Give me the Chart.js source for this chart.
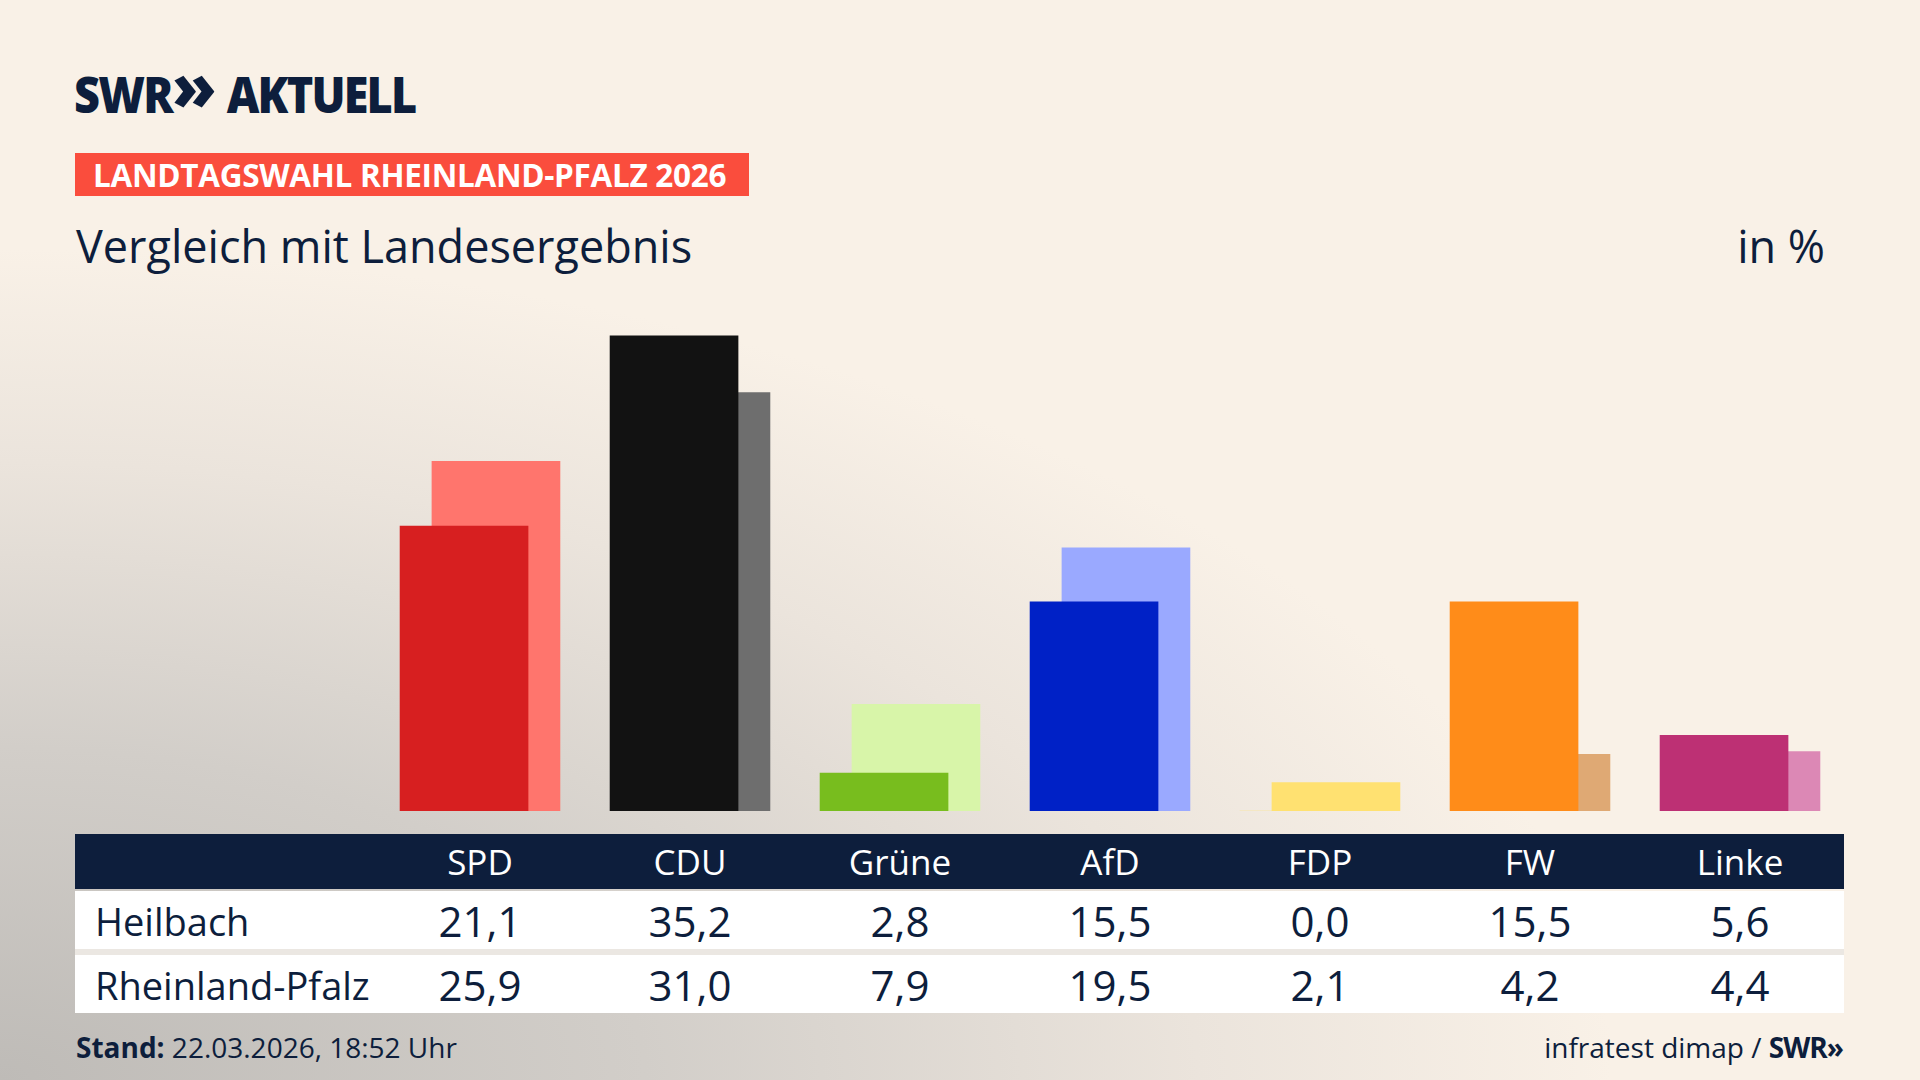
<!DOCTYPE html>
<html lang="de">
<head>
<meta charset="utf-8">
<script src="https://cdn.jsdelivr.net/npm/chart.js@4.4.1/dist/chart.umd.min.js"></script>
<style>
  html, body { margin: 0; padding: 0; }
  body {
    width: 1920px; height: 1080px; overflow: hidden; position: relative;
    font-family: "Open Sans", "Noto Sans", sans-serif; color: #0d1e3c;
    background: radial-gradient(ellipse 120% 110% at 0% 100%, #bebbb7 0%, #d2cec9 28%, #ebe4dc 52%, #f9f1e7 70%);
  }
  #logo { position: absolute; left: 74px; top: 57px; font-weight: 800; font-size: 50px; letter-spacing: -2px; line-height: 60px;
    transform: scaleX(0.9); transform-origin: left top; white-space: nowrap; }
  #logo .chev { font-size: 66px; display: inline-block; transform: scaleX(1.1) translateY(-3px); margin: 0 16px 0 2px; }
  #banner { position: absolute; left: 75px; top: 153px; width: 674px; height: 43px; background: #fa4d3d; color: #fff;
    font-weight: 700; font-size: 31.5px; line-height: 43px; text-indent: 18px; white-space: nowrap; letter-spacing: -0.3px; }
  #subtitle { position: absolute; left: 76px; top: 218px; font-size: 45px; line-height: 56px; }
  #unit { position: absolute; right: 95px; top: 218px; font-size: 45px; line-height: 56px; }
  #chart { position: absolute; left: 375px; top: 271px; }
  #tbl { position: absolute; left: 75px; top: 834px; width: 1769px; }
  .row { position: relative; height: 58px; }
  .head { background: #0d1e3c; color: #fff; height: 55px; margin-bottom: 2px; }
  .body { background: #fff; }
  .sep { height: 6px; background: #ebe7e2; }
  .cell { position: absolute; top: 0; width: 200px; margin-left: -100px; text-align: center; }
  .head .cell { font-size: 35px; line-height: 56px; }
  .body .cell { font-size: 42px; line-height: 60px; }
  .lbl { position: absolute; left: 20px; top: 0; font-size: 38px; line-height: 60px; }
  #stand { position: absolute; left: 76px; top: 1029px; font-size: 28px; line-height: 36px; }
  #source { position: absolute; right: 77px; top: 1029px; font-size: 28px; line-height: 36px; }
  #source b { letter-spacing: -1px; }
</style>
</head>
<body>
<div id="logo">SWR<span class="chev">»</span>AKTUELL</div>
<div id="banner">LANDTAGSWAHL RHEINLAND-PFALZ 2026</div>
<div id="subtitle">Vergleich mit Landesergebnis</div>
<div id="unit">in %</div>
<canvas id="chart" width="1470" height="540"></canvas>
<div id="tbl"></div>
<div id="stand"><b>Stand:</b> 22.03.2026, 18:52 Uhr</div>
<div id="source">infratest dimap / <b>SWR»</b></div>

<script>
let parteien = ['SPD', 'CDU', 'Grüne', 'AfD', 'FDP', 'FW', 'Linke'];
let heilbach = [21.1, 35.2, 2.8, 15.5, 0.0, 15.5, 5.6];
let landesergebnis = [25.9, 31.0, 7.9, 19.5, 2.1, 4.2, 4.4];
let zeilen = ['Heilbach', 'Rheinland-Pfalz'];

let farbenOrt = ['#d71f20', '#121212', '#78bd1e', '#0021c6', '#ffe171', '#ff8c19', '#bd3074'];
let farbenLand = ['#ff756d', '#6e6e6e', '#d8f5a9', '#9aa9ff', '#ffe171', '#dfa974', '#dc88b5'];

// kleiner Versatz der beiden Balken je Partei (in Kategorie-Einheiten)
let versatz = 0.076;

function grafik(ctx) {
  new Chart(ctx, {
    type: 'bar',
    data: {
      datasets: [
        {
          label: zeilen[0],
          data: heilbach.map((v, i) => ({ x: i - versatz, y: v })),
          backgroundColor: farbenOrt,
          borderWidth: 0,
          barThickness: 128,
          grouped: false
        },
        {
          label: zeilen[1],
          data: landesergebnis.map((v, i) => ({ x: i + versatz, y: v })),
          backgroundColor: farbenLand,
          borderWidth: 0,
          barThickness: 128,
          grouped: false
        }
      ]
    },
    options: {
      responsive: false,
      animation: false,
      devicePixelRatio: 1,
      layout: { padding: 0 },
      plugins: { legend: { display: false }, tooltip: { enabled: false } },
      scales: {
        x: { type: 'linear', min: -0.5, max: 6.5, offset: false, display: false },
        y: { min: 0, max: 40, display: false }
      }
    }
  });
}

function tabelle() {
  let div = document.getElementById('tbl');
  let html = '<div class="row head">';
  for (let i = 0; i < parteien.length; i++) {
    html += '<div class="cell" style="left:' + (405 + i * 210) + 'px">' + parteien[i] + '</div>';
  }
  html += '</div>';
  let reihen = [heilbach, landesergebnis];
  for (let r = 0; r < reihen.length; r++) {
    if (r > 0) html += '<div class="sep"></div>';
    html += '<div class="row body"><div class="lbl">' + zeilen[r] + '</div>';
    for (let i = 0; i < parteien.length; i++) {
      html += '<div class="cell" style="left:' + (405 + i * 210) + 'px">' + reihen[r][i].toFixed(1).replace('.', ',') + '</div>';
    }
    html += '</div>';
  }
  div.innerHTML = html;
}

grafik(document.getElementById('chart').getContext('2d'));
tabelle();
</script>
</body>
</html>
